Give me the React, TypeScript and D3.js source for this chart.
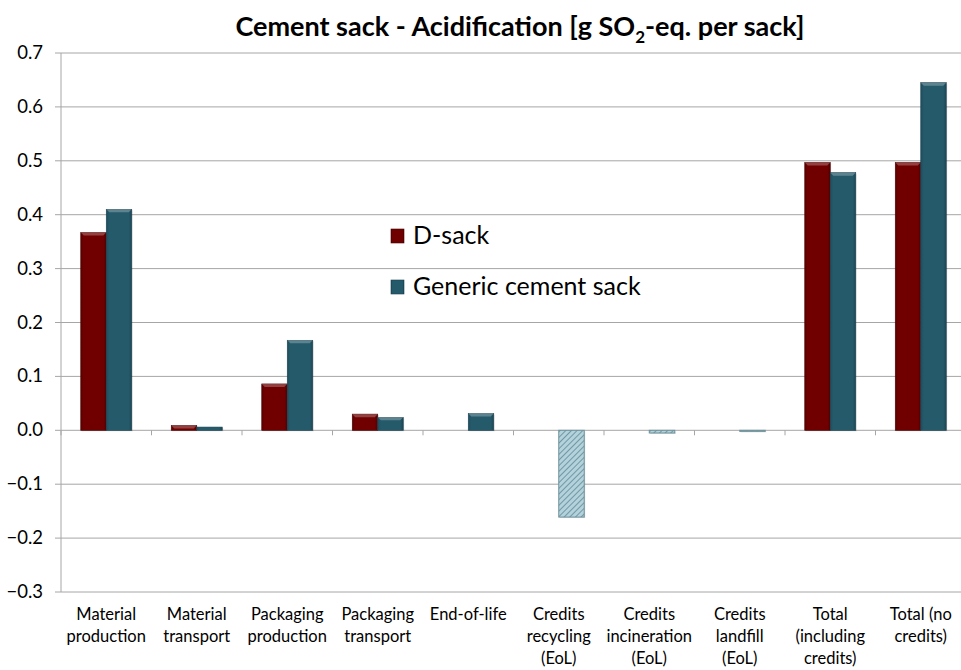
import React from "react";
import * as d3 from "d3";

const categories = [
  ["Material", "production"],
  ["Material", "transport"],
  ["Packaging", "production"],
  ["Packaging", "transport"],
  ["End-of-life"],
  ["Credits", "recycling", "(EoL)"],
  ["Credits", "incineration", "(EoL)"],
  ["Credits", "landfill", "(EoL)"],
  ["Total", "(including", "credits)"],
  ["Total (no", "credits)"],
];
const dSack = [0.367, 0.009, 0.086, 0.03, 0, 0, 0, 0, 0.497, 0.497];
const generic = [0.41, 0.006, 0.167, 0.024, 0.031, -0.161, -0.005, -0.002, 0.478, 0.645];
const yTicks = [-0.3, -0.2, -0.1, 0, 0.1, 0.2, 0.3, 0.4, 0.5, 0.6, 0.7];
const seriesNames = ["D-sack", "Generic cement sack"];

const W = 961;
const H = 670;
const left = 61;
const right = 966;
const top = 53;
const bottom = 592;
const FONT = "Lato, 'Open Sans', sans-serif";

export default function App() {
  const y = d3.scaleLinear().domain([-0.3, 0.7]).range([bottom, top]);
  const x = d3
    .scaleBand<number>()
    .domain(categories.map((_, i) => i))
    .range([left, right]);
  const bw = x.bandwidth();
  const barW = 25.5;
  const series = [
    { name: seriesNames[0], values: dSack, fill: "url(#gRed)", stroke: "#4a0000" },
    { name: seriesNames[1], values: generic, fill: "url(#gTeal)", stroke: "#1a4150" },
  ];
  const y0 = y(0);
  return (
    <svg width={W} height={H} style={{ position: "absolute", left: 0, top: 0, background: "#fff" }}>
      <defs>
        <linearGradient id="gRed" x1="0" x2="1" y1="0" y2="0">
          <stop offset="0" stopColor="#5a0000" />
          <stop offset="0.12" stopColor="#700000" />
          <stop offset="0.88" stopColor="#700000" />
          <stop offset="1" stopColor="#520000" />
        </linearGradient>
        <linearGradient id="gTeal" x1="0" x2="1" y1="0" y2="0">
          <stop offset="0" stopColor="#1f4d5c" />
          <stop offset="0.12" stopColor="#255a6b" />
          <stop offset="0.88" stopColor="#255a6b" />
          <stop offset="1" stopColor="#1c4654" />
        </linearGradient>
        <pattern id="hatch" width="4" height="4" patternUnits="userSpaceOnUse" patternTransform="rotate(45)">
          <rect width="4" height="4" fill="#b3d2dc" />
          <line x1="0" y1="0" x2="0" y2="4" stroke="#5f8996" strokeWidth="1.6" />
        </pattern>
      </defs>
      {/* title */}
      <text x={520} y={36} textAnchor="middle" fontFamily={FONT} fontWeight="bold" fontSize={27} fill="#000">
        Cement sack - Acidification [g SO
        <tspan fontSize={17} dy={7}>2</tspan>
        <tspan dy={-7}>-eq. per sack]</tspan>
      </text>
      {/* gridlines */}
      {yTicks.map((t) => (
        <g key={t}>
          <line x1={left - 6} x2={right} y1={y(t)} y2={y(t)} stroke="#a6a6a6" strokeWidth={1} />
          <text x={43} y={y(t) + 6} textAnchor="end" fontFamily={FONT} fontSize={18.5} fill="#000">
            {d3.format(".1f")(t)}
          </text>
        </g>
      ))}
      <line x1={left} x2={left} y1={top} y2={bottom} stroke="#a6a6a6" />
      {/* category ticks on zero line */}
      {categories.map((_, i) => (
        <line key={i} x1={x(i)!} x2={x(i)!} y1={y0} y2={y0 + 5} stroke="#a6a6a6" />
      ))}
      {/* bars */}
      {series.map((s, si) =>
        s.values.map((v, i) => {
          if (v === 0) return null;
          const cx = x(i)! + bw / 2;
          const bx = cx - barW + si * barW;
          const yt = Math.min(y(v), y0);
          const h = Math.abs(y(v) - y0);
          const neg = v < 0;
          return (
            <g key={`${si}-${i}`}>
              <rect x={bx + 1} y={yt + 1} width={barW} height={h} fill="#000" opacity={0.12} />
              <rect
                x={bx}
                y={yt}
                width={barW}
                height={h}
                fill={neg ? "url(#hatch)" : s.fill}
                stroke={neg ? "#6f929c" : s.stroke}
                strokeWidth={neg ? 1 : 0.6}
              />
              {!neg && h > 4 && (
                <polygon
                  points={`${bx},${yt} ${bx + barW},${yt} ${bx + barW - 3},${yt + 3} ${bx + 3},${yt + 3}`}
                  fill="#fff"
                  opacity={0.25}
                />
              )}
            </g>
          );
        })
      )}
      {/* x labels */}
      {categories.map((lines, i) => (
        <text key={i} textAnchor="middle" fontFamily={FONT} fontSize={16.5} fill="#000">
          {lines.map((l, j) => (
            <tspan key={j} x={x(i)! + bw / 2} y={620 + j * 22}>
              {l}
            </tspan>
          ))}
        </text>
      ))}
      {/* legend */}
      {series.map((s, i) => (
        <g key={s.name} transform={`translate(391, ${229 + i * 51})`}>
          <rect width={13} height={14} fill={s.fill} stroke={s.stroke} strokeWidth={0.6} />
          <text x={22} y={15} fontFamily={FONT} fontSize={25} fill="#000">
            {s.name}
          </text>
        </g>
      ))}
    </svg>
  );
}
